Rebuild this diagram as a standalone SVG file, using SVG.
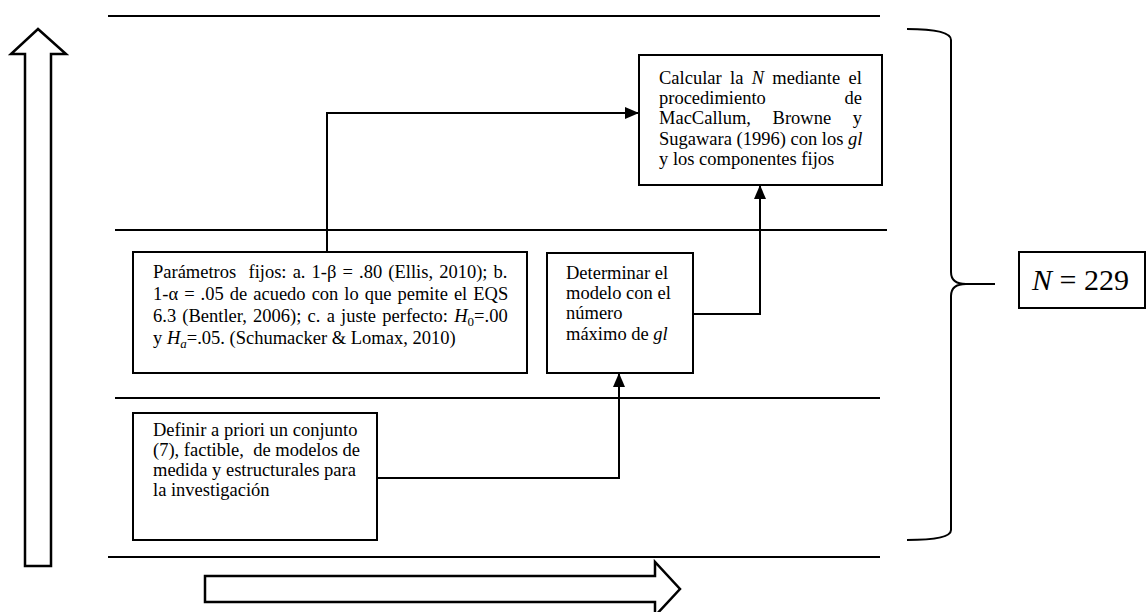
<svg xmlns="http://www.w3.org/2000/svg" width="1147" height="612" viewBox="0 0 1147 612">
  <style>
    .rule { stroke: #000; stroke-width: 2; fill: none; }
    .box { fill: #fff; stroke: #000; stroke-width: 2; }
    .conn { stroke: #000; stroke-width: 2; fill: none; }
    .big { fill: #fff; stroke: #000; stroke-width: 2.5; stroke-linejoin: miter; }
    text { font-family: "Liberation Serif", "Times New Roman", serif; font-size: 18.5px; fill: #000; }
    text.result { font-size: 30px; }
    .it { font-style: italic; }
    .sub { font-size: 13px; }
  </style>
  <defs>
    <marker id="tri" viewBox="0 0 14 12" refX="14" refY="6" markerWidth="14" markerHeight="12" markerUnits="userSpaceOnUse" orient="auto">
      <path d="M0,0 L14,6 L0,12 z" fill="#000"/>
    </marker>
  </defs>

  <!-- horizontal separators -->
  <g id="rules">
    <line class="rule" x1="108" y1="16" x2="880" y2="16"/>
    <line class="rule" x1="115" y1="230" x2="887" y2="230"/>
    <line class="rule" x1="115" y1="398" x2="880" y2="398"/>
    <line class="rule" x1="108" y1="557" x2="880" y2="557"/>
  </g>

  <!-- block arrows -->
  <g id="up-arrow">
    <polygon class="big" points="38,29 66,54 51,54 51,566 25,566 25,54 11,54"/>
  </g>
  <g id="right-arrow">
    <polygon class="big" points="205,576 655,576 655,562 680,589 655,616 655,602 205,602"/>
  </g>

  <!-- connectors -->
  <g id="connectors">
    <path class="conn" d="M327,252 V113 H639" marker-end="url(#tri)"/>
    <path class="conn" d="M693,314 H760 V185" marker-end="url(#tri)"/>
    <path class="conn" d="M377,478 H619 V373" marker-end="url(#tri)"/>
  </g>

  <g id="node-calcular">
    <rect class="box" x="639" y="55" width="243" height="130"/>
    <text x="659" y="84" word-spacing="3.7">Calcular la <tspan class="it">N</tspan> mediante el</text>
    <text x="659" y="104">procedimiento</text>
    <text x="862" y="104" text-anchor="end">de</text>
    <text x="659" y="124" word-spacing="17">MacCallum, Browne y</text>
    <text x="659" y="145">Sugawara (1996) con los <tspan class="it">gl</tspan></text>
    <text x="659" y="165">y los componentes fijos</text>
  </g>

  <g id="node-parametros">
    <rect class="box" x="133" y="252" width="394" height="121"/>
    <text x="153" y="278" word-spacing="1.5" xml:space="preserve">Parámetros  fijos: a. 1-β = .80 (Ellis, 2010); b.</text>
    <text x="153" y="300" word-spacing="1.4">1-α = .05 de acuedo con lo que pemite el EQS</text>
    <text x="153" y="322" word-spacing="1.6">6.3 (Bentler, 2006); c. a juste perfecto: <tspan class="it">H</tspan><tspan class="sub" dy="4">0</tspan><tspan dy="-4">=.00</tspan></text>
    <text x="153" y="344">y <tspan class="it">H</tspan><tspan class="it sub" dy="4">a</tspan><tspan dy="-4">=.05. (Schumacker &amp; Lomax, 2010)</tspan></text>
  </g>

  <g id="node-determinar">
    <rect class="box" x="547" y="253" width="146" height="120"/>
    <text x="566" y="279">Determinar el</text>
    <text x="566" y="299">modelo con el</text>
    <text x="566" y="319">número</text>
    <text x="566" y="340">máximo de <tspan class="it">gl</tspan></text>
  </g>

  <g id="node-definir">
    <rect class="box" x="133" y="413" width="244" height="127"/>
    <text x="153" y="436">Definir a priori un conjunto</text>
    <text x="153" y="456" xml:space="preserve">(7), factible,  de modelos de</text>
    <text x="153" y="476">medida y estructurales para</text>
    <text x="153" y="496">la investigación</text>
  </g>

  <!-- brace grouping the whole procedure -->
  <g id="brace">
    <path class="conn" d="M907,29 C935,29 951,32 951,40 V272 C951,280 956,284 966,284 H995 M966,284 C956,284 951,288 951,296 V530 C951,537 935,540 907,540"/>
  </g>

  <g id="node-result">
    <rect class="box" x="1019" y="252" width="126" height="56"/>
    <text class="result" x="1032" y="290"><tspan class="it">N</tspan> = 229</text>
  </g>
</svg>
